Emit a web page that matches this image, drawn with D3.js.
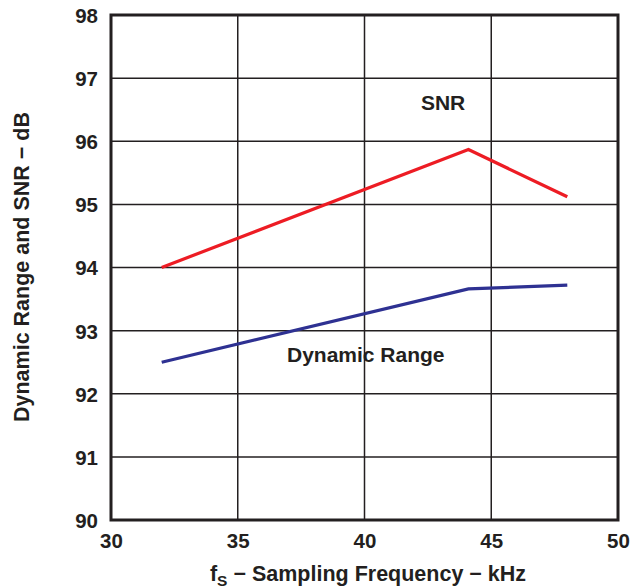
<!DOCTYPE html>
<html><head><meta charset="utf-8">
<script src="https://d3js.org/d3.v7.min.js"></script>
<style>body{margin:0;background:#fff;} svg{display:block;} text{font-family:"Liberation Sans",Arial,sans-serif;font-weight:bold;fill:#231f20;}</style>
</head><body>
<svg id="c" width="642" height="588"></svg>
<script>
const freqs = [32, 44.1, 48];
const snr = [94.0, 95.87, 95.12];
const dynRange = [92.5, 93.66, 93.72];
const xTicks = [30, 35, 40, 45, 50];
const yTicks = [90, 91, 92, 93, 94, 95, 96, 97, 98];

const svg = d3.select("#c");
const m = {l:111, t:15, r:618, b:520};
const x = d3.scaleLinear().domain([30,50]).range([m.l, m.r]);
const y = d3.scaleLinear().domain([90,98]).range([m.b, m.t]);

// gridlines
svg.append("g").selectAll("line").data(xTicks).join("line")
  .attr("x1", d=>x(d)).attr("x2", d=>x(d)).attr("y1", m.t).attr("y2", m.b)
  .attr("stroke", "#231f20").attr("stroke-width", 1.5);
svg.append("g").selectAll("line").data(yTicks).join("line")
  .attr("x1", m.l).attr("x2", m.r).attr("y1", d=>y(d)).attr("y2", d=>y(d))
  .attr("stroke", "#231f20").attr("stroke-width", 1.5);

// axes labels
const xAxis = d3.axisBottom(x).tickValues(xTicks).tickSize(0).tickPadding(13);
const gx = svg.append("g").attr("transform", `translate(0,${m.b})`).call(xAxis);
gx.select(".domain").remove();
gx.selectAll("text").attr("font-size", 20.5).style("font-family", "Liberation Sans, Arial, sans-serif").style("font-weight","bold").attr("fill","#231f20");

const yAxis = d3.axisLeft(y).tickValues(yTicks).tickSize(0).tickPadding(13);
const gy = svg.append("g").attr("transform", `translate(${m.l},0)`).call(yAxis);
gy.select(".domain").remove();
gy.selectAll("text").attr("font-size", 20.5).attr("dy","0.36em").style("font-family", "Liberation Sans, Arial, sans-serif").style("font-weight","bold").attr("fill","#231f20");

// frame
svg.append("rect").attr("x", m.l).attr("y", m.t).attr("width", m.r-m.l).attr("height", m.b-m.t)
  .attr("fill","none").attr("stroke","#231f20").attr("stroke-width",3);

const line = d3.line().x(d=>x(d[0])).y(d=>y(d[1]));
svg.append("path").datum(freqs.map((f,i)=>[f,snr[i]])).attr("d", line)
  .attr("fill","none").attr("stroke","#ed1c24").attr("stroke-width",3.2).attr("stroke-linejoin","miter");
svg.append("path").datum(freqs.map((f,i)=>[f,dynRange[i]])).attr("d", line)
  .attr("fill","none").attr("stroke","#2e3192").attr("stroke-width",3.2);

// series labels
svg.append("text").attr("x", x(43.1)).attr("y", y(96.49)).attr("text-anchor","middle").attr("font-size",21).text("SNR");
svg.append("text").attr("x", x(40.05)).attr("y", y(92.5)).attr("text-anchor","middle").attr("font-size",21).text("Dynamic Range");

// axis titles
const xt = svg.append("text").attr("x", 368).attr("y", 581).attr("text-anchor","middle").attr("font-size",21.5);
xt.append("tspan").text("f");
xt.append("tspan").attr("font-size",15.5).attr("dy",5).text("S");
xt.append("tspan").attr("dy",-5).text(" \u2212 Sampling Frequency \u2212 kHz");

svg.append("text").attr("transform","translate(29,267) rotate(-90)").attr("text-anchor","middle").attr("font-size",21.5)
  .text("Dynamic Range and SNR \u2212 dB");
</script>
</body></html>
